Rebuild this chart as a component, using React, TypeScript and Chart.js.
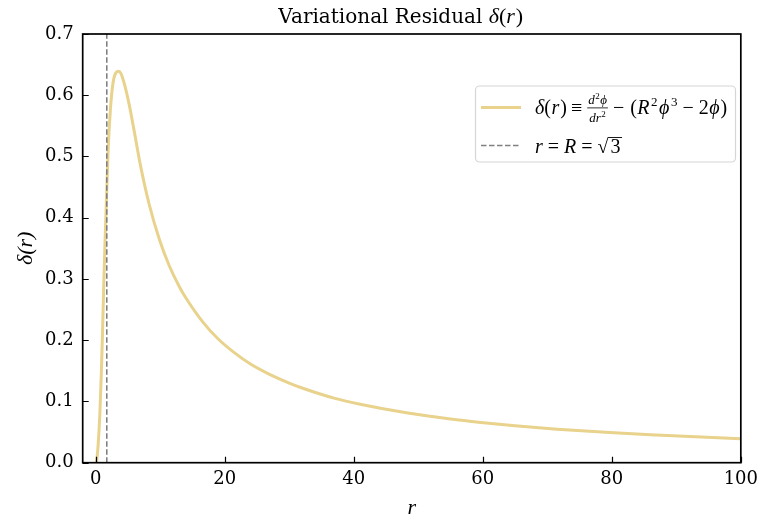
import React, { useEffect, useRef } from "react";
import { Chart, registerables } from "chart.js";

Chart.register(...registerables);

// ---- data ----
const rValues: number[] = [
  0.15, 0.4, 0.66, 0.9, 1.08, 1.25, 1.43, 1.69, 1.94, 2.3, 2.7, 3.1, 3.55, 3.95, 4.5, 5.2, 5.8, 7.0, 8.3,
  9.9, 11.4, 13.0, 14.0, 16.6, 19.0, 21.7, 24.0, 26.8, 30.0, 32.0, 37.1, 41.0, 48.4, 55.0, 59.7, 65.0,
  71.5, 79.7, 86.0, 92.1, 100.0,
];
const deltaValues: number[] = [
  0.0, 0.03, 0.08, 0.15, 0.215, 0.285, 0.35, 0.432, 0.51, 0.578, 0.62, 0.636, 0.639, 0.635, 0.617,
  0.585, 0.552, 0.483, 0.422, 0.364, 0.322, 0.287, 0.269, 0.23, 0.202, 0.178, 0.161, 0.145, 0.13,
  0.122, 0.105, 0.0954, 0.081, 0.0713, 0.0657, 0.0603, 0.0548, 0.0492, 0.0456, 0.0426, 0.0392,
];
const markerR: number = Math.sqrt(3);
const markerY: number[] = [0, 0.7];
const xTicks: number[] = [0, 20, 40, 60, 80, 100];
const yTicks: number[] = [0, 0.1, 0.2, 0.3, 0.4, 0.5, 0.6, 0.7];

const CURVE = "#e8d28c";
const DASH = "#808080";
const SERIF = '"DejaVu Serif"';
const MATH = '"Liberation Serif"';

type Run = { t: string; it?: boolean; size?: number; dy?: number; gap?: number };

function drawRuns(ctx: CanvasRenderingContext2D, x: number, y: number, runs: Run[], base: number): number {
  for (const r of runs) {
    const size = r.size ?? base;
    ctx.font = `${r.it ? "italic " : ""}${size}px ${MATH}`;
    ctx.fillText(r.t, x, y + (r.dy ?? 0));
    x += ctx.measureText(r.t).width + (r.gap ?? 0);
  }
  return x;
}

function runsWidth(ctx: CanvasRenderingContext2D, runs: Run[], base: number): number {
  let w = 0;
  for (const r of runs) {
    const size = r.size ?? base;
    ctx.font = `${r.it ? "italic " : ""}${size}px ${MATH}`;
    w += ctx.measureText(r.t).width + (r.gap ?? 0);
  }
  return w;
}

const decorPlugin = {
  id: "decor",
  afterDraw(chart: any) {
    const ctx: CanvasRenderingContext2D = chart.ctx;
    const { left, right, top, bottom } = chart.chartArea;
    const xs = chart.scales.x;
    const ys = chart.scales.y;
    ctx.save();
    // ticks (inward)
    ctx.strokeStyle = "#000";
    ctx.lineWidth = 1.2;
    ctx.beginPath();
    for (const v of xTicks) {
      const px = Math.round(xs.getPixelForValue(v)) + 0.5;
      ctx.moveTo(px, bottom);
      ctx.lineTo(px, bottom - 6);
    }
    for (const v of yTicks) {
      const py = Math.round(ys.getPixelForValue(v)) + 0.5;
      ctx.moveTo(left, py);
      ctx.lineTo(left + 6, py);
    }
    ctx.stroke();
    // frame
    ctx.lineWidth = 1.7;
    ctx.strokeRect(left, top, right - left, bottom - top);

    // title
    const titleA = "Variational Residual ";
    ctx.fillStyle = "#000";
    ctx.textBaseline = "alphabetic";
    ctx.textAlign = "left";
    ctx.font = `20px ${SERIF}`;
    const wA = ctx.measureText(titleA).width;
    const tRuns: Run[] = [{ t: "δ", it: true }, { t: "(" }, { t: "r", it: true, gap: 1 }, { t: ")" }];
    const wB = runsWidth(ctx, tRuns, 22);
    const cx = (left + right) / 2 - 11;
    const tx = cx - (wA + wB) / 2;
    ctx.font = `20px ${SERIF}`;
    ctx.fillText(titleA, tx, 23);
    drawRuns(ctx, tx + wA, 23, tRuns, 22);

    // legend box
    const bx = 475.5, by = 86, bw = 260, bh = 76;
    ctx.beginPath();
    (ctx as any).roundRect(bx, by, bw, bh, 4);
    ctx.fillStyle = "rgba(255,255,255,0.85)";
    ctx.fill();
    ctx.strokeStyle = "#d6d6d6";
    ctx.lineWidth = 1.2;
    ctx.stroke();

    // legend samples
    ctx.strokeStyle = CURVE;
    ctx.lineWidth = 3;
    ctx.beginPath();
    ctx.moveTo(481, 107.5);
    ctx.lineTo(521, 107.5);
    ctx.stroke();
    ctx.strokeStyle = DASH;
    ctx.lineWidth = 1.5;
    ctx.setLineDash([5.5, 2.5]);
    ctx.beginPath();
    ctx.moveTo(481, 145.5);
    ctx.lineTo(521, 145.5);
    ctx.stroke();
    ctx.setLineDash([]);

    // legend text 1
    ctx.fillStyle = "#000";
    const B = 114;
    let x = 535;
    x = drawRuns(ctx, x, B, [
      { t: "δ", it: true }, { t: "(", gap: 0.5 }, { t: "r", it: true, gap: 1 }, { t: ")", gap: 4 }, { t: "≡", gap: 5 },
    ], 20);
    const num: Run[] = [{ t: "d", it: true, gap: 0.5 }, { t: "2", size: 9, dy: -5, gap: 0.5 }, { t: "ϕ", it: true }];
    const den: Run[] = [{ t: "dr", it: true, gap: 0.5 }, { t: "2", size: 9, dy: -5 }];
    const wn = runsWidth(ctx, num, 13);
    const wd = runsWidth(ctx, den, 13);
    const fw = Math.max(wn, wd) + 2;
    drawRuns(ctx, x + (fw - wn) / 2, B - 10, num, 13);
    drawRuns(ctx, x + (fw - wd) / 2, B + 8, den, 13);
    ctx.fillRect(x, B - 6.5, fw, 0.8);
    x += fw + 5;
    drawRuns(ctx, x, B, [
      { t: "−", gap: 6 }, { t: "(", gap: 0.5 }, { t: "R", it: true, gap: 1.5 }, { t: "2", size: 13, dy: -8, gap: 1.5 },
      { t: "ϕ", it: true, gap: 1.5 }, { t: "3", size: 13, dy: -8, gap: 5 }, { t: "−", gap: 5 }, { t: "2", gap: 0.5 },
      { t: "ϕ", it: true, gap: 1 }, { t: ")" },
    ], 20);

    // legend text 2
    const B2 = 153;
    const x2 = drawRuns(ctx, 535, B2, [
      { t: "r", it: true, gap: 5 }, { t: "=", gap: 5 }, { t: "R", it: true, gap: 5 }, { t: "=", gap: 5 },
      { t: "√", gap: 0 },
    ], 20);
    ctx.font = `20px ${MATH}`;
    const w3 = ctx.measureText("3").width;
    ctx.fillRect(x2 - 0.5, B2 - 16, w3 + 4, 0.9);
    ctx.fillText("3", x2 + 2, B2);
    ctx.restore();
  },
};

export default function App() {
  const ref = useRef<HTMLCanvasElement | null>(null);
  useEffect(() => {
    if (!ref.current) return;
    const curve = rValues.map((r, i) => ({ x: r, y: deltaValues[i] }));
    const marker = markerY.map((y) => ({ x: markerR, y }));
    const chart = new Chart(ref.current, {
      type: "line",
      data: {
        datasets: [
          {
            label: "r = R = √3",
            data: marker,
            borderColor: DASH,
            borderWidth: 1.6,
            borderDash: [5.5, 2.5],
            pointRadius: 0,
            fill: false,
          },
          {
            label: "δ(r) ≡ d²ϕ/dr² − (R²ϕ³ − 2ϕ)",
            data: curve,
            borderColor: CURVE,
            borderWidth: 3,
            pointRadius: 0,
            cubicInterpolationMode: "monotone",
            fill: false,
          },
        ],
      },
      options: {
        animation: false,
        responsive: false,
        devicePixelRatio: 1,
        parsing: false as any,
        layout: { padding: { top: 34, right: 21, left: 0, bottom: 0 } },
        plugins: { legend: { display: false }, tooltip: { enabled: false }, title: { display: false } },
        scales: {
          x: {
            type: "linear",
            min: -2,
            max: 100,
            afterFit: (s: any) => { s.height = 58.3; },
            afterBuildTicks: (s: any) => { s.ticks = xTicks.map((v) => ({ value: v })); },
            grid: { display: false, drawTicks: false },
            border: { display: false },
            ticks: {
              color: "#000",
              padding: 6,
              maxRotation: 0,
              font: { family: "DejaVu Serif", size: 18 },
              callback: (v: any) => String(v),
            },
            title: {
              display: true,
              text: "r",
              color: "#000",
              font: { family: "Liberation Serif", size: 22, style: "italic" },
              padding: { top: 0, bottom: 0 },
            },
          },
          y: {
            type: "linear",
            min: 0,
            max: 0.7,
            afterFit: (s: any) => { s.width = 82.7; },
            afterBuildTicks: (s: any) => { s.ticks = yTicks.map((v) => ({ value: v })); },
            grid: { display: false, drawTicks: false },
            border: { display: false },
            ticks: {
              color: "#000",
              padding: 9,
              font: { family: "DejaVu Serif", size: 18 },
              callback: (v: any) => Number(v).toFixed(1),
            },
            title: {
              display: true,
              text: "δ(r)",
              color: "#000",
              font: { family: "Liberation Serif", size: 22, style: "italic" },
              padding: { top: 13, bottom: 0 },
            },
          },
        },
      },
      plugins: [decorPlugin],
    });
    return () => chart.destroy();
  }, []);
  return (
    <div style={{ position: "fixed", left: 0, top: 0, width: 764, height: 521, background: "#fff" }}>
      <canvas ref={ref} width={764} height={521} style={{ display: "block" }} />
    </div>
  );
}
